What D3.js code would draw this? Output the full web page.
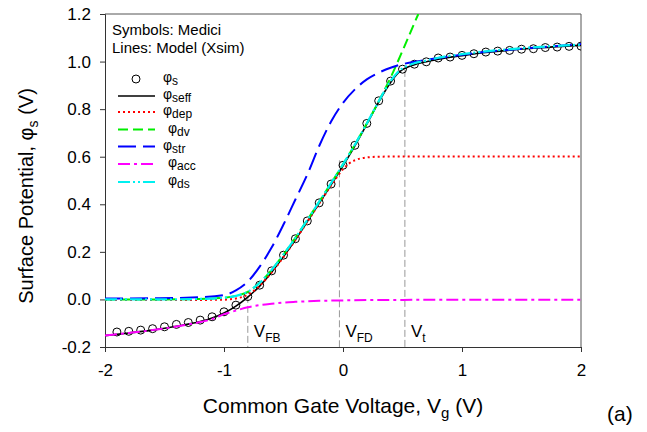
<!DOCTYPE html>
<html>
<head>
<meta charset="utf-8">
<script src="https://cdn.jsdelivr.net/npm/d3@7/dist/d3.min.js"></script>
<style>
  html, body { margin: 0; padding: 0; background: #fff; }
  svg { display: block; }
  text { font-family: "Liberation Sans", Arial, sans-serif; fill: #000; }
</style>
</head>
<body>
<svg id="chart" width="647" height="432"></svg>
<script>
// ---------- data ----------
const xTicks = [-2, -1, 0, 1, 2];
const yTicks = [-0.2, 0.0, 0.2, 0.4, 0.6, 0.8, 1.0, 1.2];

// Medici symbols (phi_s)
const vgSym = [-1.9,-1.8,-1.7,-1.6,-1.5,-1.4,-1.3,-1.2,-1.1,-1.0,-0.9,-0.8,-0.7,-0.6,-0.5,-0.4,-0.3,-0.2,-0.1,0.0,
               0.1,0.2,0.3,0.4,0.5,0.6,0.7,0.8,0.9,1.0,1.1,1.2,1.3,1.4,1.5,1.6,1.7,1.8,1.9,2.0];
const phiS = [-0.137,-0.134,-0.129,-0.123,-0.115,-0.105,-0.097,-0.087,-0.073,-0.052,-0.024,0.012,0.060,0.120,0.186,0.255,0.330,0.406,0.485,0.564,
              0.648,0.740,0.835,0.918,0.968,0.989,0.999,1.015,1.019,1.026,1.033,1.040,1.044,1.047,1.052,1.054,1.059,1.061,1.064,1.065];

// phi_seff (black solid)
const vgSeff = [-2.0,-1.8,-1.6,-1.4,-1.2,-1.1,-1.0,-0.9,-0.8,-0.7,-0.6,-0.5,-0.4,-0.3,-0.2,-0.1,0.0,0.1,0.2,0.3,0.4,0.45,0.5,0.55,0.6,0.7,0.8,1.0,1.2,1.4,1.6,1.8,2.0];
const phiSeff = [-0.152,-0.141,-0.129,-0.113,-0.093,-0.078,-0.057,-0.028,0.010,0.056,0.114,0.180,0.251,0.327,0.404,0.482,0.562,0.646,0.737,0.830,0.912,0.945,0.966,0.978,0.987,0.999,1.010,1.025,1.038,1.048,1.056,1.063,1.068];

// phi_dep (red dotted)
const vgDep = [-2.0,-1.6,-1.2,-1.0,-0.9,-0.8,-0.7,-0.6,-0.5,-0.4,-0.3,-0.2,-0.1,-0.05,0.0,0.05,0.1,0.15,0.2,0.3,0.5,1.0,2.0];
const phiDep = [-0.002,-0.002,-0.002,-0.001,0.004,0.020,0.058,0.113,0.178,0.250,0.326,0.403,0.479,0.515,0.548,0.571,0.585,0.593,0.597,0.600,0.601,0.601,0.601];

// phi_dv (green dashed)
const vgDv = [-2.0,-1.6,-1.2,-1.0,-0.9,-0.8,-0.7,-0.6,-0.5,-0.4,-0.3,-0.2,-0.1,0.0,0.1,0.2,0.3,0.4,0.5,0.6,0.633];
const phiDv = [0.000,0.000,0.002,0.007,0.015,0.032,0.070,0.124,0.189,0.259,0.334,0.411,0.489,0.568,0.651,0.740,0.833,0.933,1.045,1.162,1.200];

// phi_str (blue long dash)
const vgStr = [-2.0,-1.6,-1.2,-1.0,-0.9,-0.8,-0.7,-0.6,-0.5,-0.4,-0.3,-0.2,-0.1,0.0,0.1,0.2,0.3,0.4,0.5,0.6,0.8,1.0,1.2,1.4,1.6,1.8,2.0];
const phiStr = [0.004,0.005,0.009,0.018,0.038,0.075,0.138,0.218,0.315,0.420,0.525,0.645,0.748,0.826,0.883,0.925,0.953,0.974,0.989,0.999,1.015,1.029,1.041,1.050,1.058,1.066,1.074];

// phi_acc (magenta dash-dot)
const vgAcc = [-2.0,-1.8,-1.6,-1.4,-1.2,-1.1,-1.0,-0.9,-0.8,-0.7,-0.6,-0.5,-0.4,-0.2,0.0,0.5,1.0,2.0];
const phiAcc = [-0.152,-0.141,-0.129,-0.114,-0.095,-0.083,-0.062,-0.047,-0.033,-0.024,-0.018,-0.013,-0.010,-0.006,-0.004,-0.002,-0.001,-0.001];

// phi_ds (cyan dash-dot-dot)
const vgDs = [-2.0,-1.6,-1.2,-1.0,-0.9,-0.8,-0.7,-0.6,-0.5,-0.4,-0.3,-0.2,-0.1,0.0,0.1,0.2,0.3,0.35,0.4,0.45,0.5,0.55,0.6,0.7,0.8,1.0,1.2,1.4,1.6,1.8,2.0];
const phiDs = [0.000,0.000,0.002,0.007,0.015,0.032,0.070,0.124,0.189,0.259,0.334,0.411,0.489,0.568,0.651,0.740,0.833,0.878,0.918,0.950,0.972,0.984,0.993,1.004,1.016,1.031,1.043,1.052,1.060,1.066,1.071];

// marker voltages (x position, top value of the guide line)
const markerNames = ["FB", "FD", "t"];
const markerVg = [-0.80, -0.03, 0.52];
const markerTop = [0.015, 0.585, 0.965];

// ---------- layout ----------
const svg = d3.select("#chart");
const L = 105, R = 581, T = 14, B = 347;
const x = d3.scaleLinear().domain([-2, 2]).range([L, R]);
const y = d3.scaleLinear().domain([-0.2, 1.2]).range([B, T]);

const defs = svg.append("defs");
defs.append("clipPath").attr("id", "plotclip")
  .append("rect").attr("x", L).attr("y", T).attr("width", R - L).attr("height", B - T);

// frame (top & right)
svg.append("line").attr("x1", L).attr("x2", R).attr("y1", T).attr("y2", T).attr("stroke", "#555").attr("stroke-width", 1);
svg.append("line").attr("x1", R).attr("x2", R).attr("y1", T).attr("y2", B).attr("stroke", "#555").attr("stroke-width", 1);

// axes
const yAxis = svg.append("g").attr("transform", `translate(${L},0)`)
  .call(d3.axisLeft(y).tickValues(yTicks).tickSize(5).tickPadding(9).tickFormat(d => d.toFixed(1)));
const xAxis = svg.append("g").attr("transform", `translate(0,${B})`)
  .call(d3.axisBottom(x).tickValues(xTicks).tickSize(5).tickPadding(12).tickFormat(d => String(d)));
[yAxis, xAxis].forEach(g => {
  g.select(".domain").attr("stroke", "#333").attr("stroke-width", 1);
  g.selectAll(".tick line").attr("stroke", "#333");
  g.selectAll(".tick text").attr("font-family", "Liberation Sans, Arial, sans-serif").attr("font-size", 17).attr("fill", "#000");
});

// vertical guide lines
const guides = svg.append("g");
markerVg.forEach((v, i) => {
  guides.append("line")
    .attr("x1", x(v)).attr("x2", x(v))
    .attr("y1", y(markerTop[i])).attr("y2", B)
    .attr("stroke", "#999").attr("stroke-width", 1).attr("stroke-dasharray", "7,3");
  const t = guides.append("text").attr("x", x(v) + 6).attr("y", 337).attr("font-size", 17);
  t.append("tspan").text("V");
  t.append("tspan").attr("font-size", 12).attr("dy", 5).text(markerNames[i]);
});

// series
const plot = svg.append("g").attr("clip-path", "url(#plotclip)");
const line = d3.line().x(d => x(d[0])).y(d => y(d[1])).curve(d3.curveMonotoneX);
const zip = (a, b) => a.map((v, i) => [v, b[i]]);

// symbols
plot.selectAll("circle.sym").data(zip(vgSym, phiS)).enter().append("circle")
  .attr("class", "sym").attr("cx", d => x(d[0])).attr("cy", d => y(d[1])).attr("r", 4)
  .attr("fill", "none").attr("stroke", "#000").attr("stroke-width", 1);

const series = [
  {name: "seff", xs: vgSeff, ys: phiSeff, color: "#000000", dash: null, w: 1.6, lx: 163},
  {name: "dep",  xs: vgDep,  ys: phiDep,  color: "#ff0000", dash: "2,3", w: 2, lx: 163},
  {name: "dv",   xs: vgDv,   ys: phiDv,   color: "#00ee00", dash: "10,5", w: 2, lx: 168},
  {name: "str",  xs: vgStr,  ys: phiStr,  color: "#0000ff", dash: "18,7", w: 2, lx: 163},
  {name: "acc",  xs: vgAcc,  ys: phiAcc,  color: "#ff00ff", dash: "12,4,3,4", w: 2, lx: 168},
  {name: "ds",   xs: vgDs,   ys: phiDs,   color: "#00f0f0", dash: "12,3,2,3,2,3", w: 2.2, lx: 168}
];
series.forEach(s => {
  plot.append("path").datum(zip(s.xs, s.ys))
    .attr("d", line).attr("fill", "none")
    .attr("stroke", s.color).attr("stroke-width", s.w)
    .attr("stroke-dasharray", s.dash);
});

// ---------- legend ----------
const lg = svg.append("g");
lg.append("text").attr("x", 112).attr("y", 35).attr("font-size", 15).text("Symbols: Medici");
lg.append("text").attr("x", 112).attr("y", 53).attr("font-size", 15).text("Lines: Model (Xsim)");

const rowY = [79, 96, 112, 129.5, 146.5, 164, 182];
function legendLabel(xp, yp, sub) {
  const t = lg.append("text").attr("x", xp).attr("y", yp + 3).attr("font-size", 14);
  t.append("tspan").text("φ");
  t.append("tspan").attr("font-size", 12).attr("dy", 3).text(sub);
}
lg.append("circle").attr("cx", 136).attr("cy", rowY[0]).attr("r", 4)
  .attr("fill", "none").attr("stroke", "#000").attr("stroke-width", 1);
legendLabel(163, rowY[0], "s");
series.forEach((s, i) => {
  const yy = rowY[i + 1];
  lg.append("line").attr("x1", 118).attr("x2", 155).attr("y1", yy).attr("y2", yy)
    .attr("stroke", s.color).attr("stroke-width", s.w).attr("stroke-dasharray", s.dash);
  legendLabel(s.lx, yy, s.name);
});

// ---------- titles ----------
const xt = svg.append("text").attr("x", 343).attr("y", 413).attr("text-anchor", "middle").attr("font-size", 21);
xt.append("tspan").text("Common Gate Voltage, V");
xt.append("tspan").attr("font-size", 15).attr("dy", 5).text("g");
xt.append("tspan").attr("dy", -5).text(" (V)");

const yt = svg.append("text").attr("transform", "translate(33,196) rotate(-90)")
  .attr("text-anchor", "middle").attr("font-size", 20);
yt.append("tspan").text("Surface Potential, φ");
yt.append("tspan").attr("font-size", 14).attr("dy", 5).text("s");
yt.append("tspan").attr("dy", -5).text(" (V)");

svg.append("text").attr("x", 607).attr("y", 421).attr("font-size", 21)
  .attr("font-family", "Liberation Serif, Times New Roman, serif").text("(a)");
</script>
</body>
</html>
